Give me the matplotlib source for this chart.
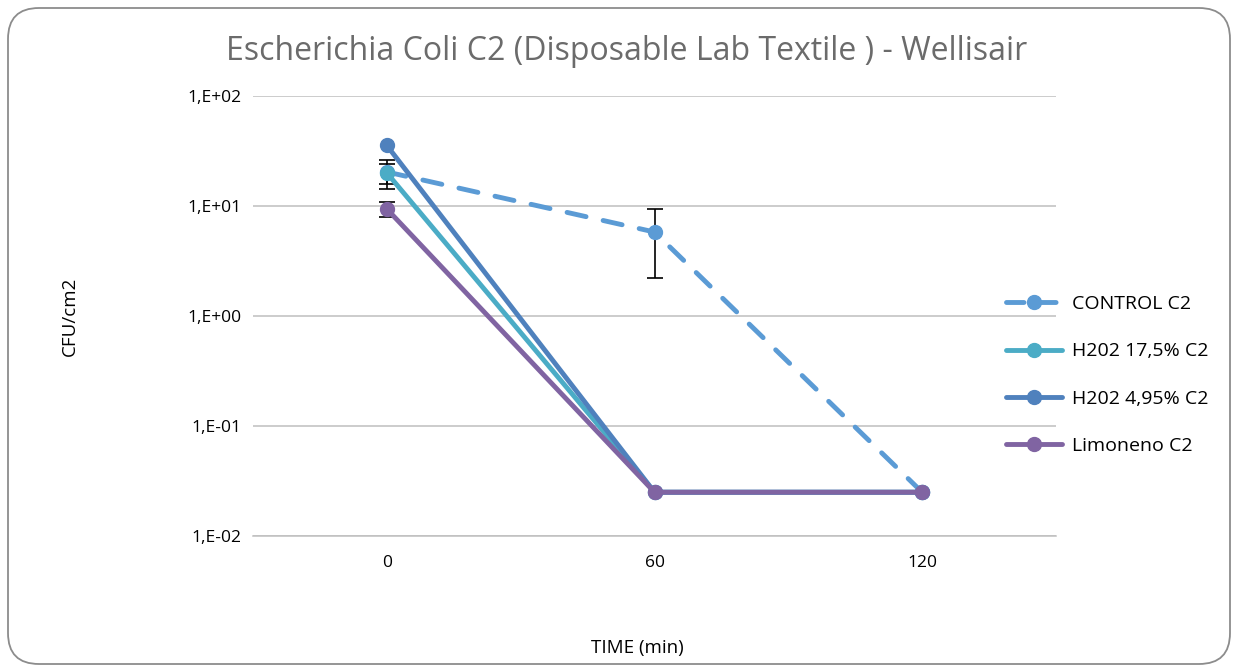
import numpy as np
import matplotlib; matplotlib.use("Agg")
import matplotlib.pyplot as plt
from matplotlib.patches import FancyBboxPatch
from matplotlib.ticker import FixedLocator, NullLocator

plt.rcParams['font.family'] = ['Open Sans', 'DejaVu Sans']

times = ["0", "60", "120"]
control = [20.4, 5.8, 0.025]
control_err = [6.0, 3.6, 0.0]
h2o2_175 = [20.0, 0.025, 0.025]
h2o2_175_err = [4.0, 0.0, 0.0]
h2o2_495 = [35.5, 0.025, 0.025]
limoneno = [9.4, 0.025, 0.025]
limoneno_err = [1.5, 0.0, 0.0]
yticks = [1e-2, 1e-1, 1e0, 1e1, 1e2]
ytick_labels = ["1,E-02", "1,E-01", "1,E+00", "1,E+01", "1,E+02"]

fig = plt.figure(figsize=(12.39, 6.72), dpi=100)
fig.patches.append(FancyBboxPatch((8/1239, 8/672), 1222/1239, 656/672, boxstyle="round,pad=0,rounding_size=0.025",
                                  transform=fig.transFigure, fc="none", ec="#8c8c8c", lw=1.3,
                                  mutation_aspect=1239/672, zorder=-1))
ax = fig.add_axes([253/1239, 1-536/672, 803/1239, 440/672])
ax.set_facecolor("none")
x = np.arange(len(times))

kw = dict(lw=3.5, marker='o', ms=10, solid_capstyle='round')
ax.plot(x, control, color="#5B9BD5", ls=(0, (4, 3.6)), dash_capstyle='round', label="CONTROL C2", zorder=3, **kw)
ax.plot(x, h2o2_175, color="#4BACC6", label="H202 17,5% C2", zorder=4, **kw)
ax.plot(x, h2o2_495, color="#4F81BD", label="H202 4,95% C2", zorder=5, **kw)
ax.plot(x, limoneno, color="#8064A2", label="Limoneno C2", zorder=6, **kw)
for vals, err in [(control, control_err), (h2o2_175, h2o2_175_err), (limoneno, limoneno_err)]:
    v = np.array(vals); e = np.array(err); m = e > 0
    ax.errorbar(x[m], v[m], yerr=e[m], fmt='none', ecolor="black", elinewidth=1.2, capsize=6, capthick=1.2, zorder=2.5)

ax.set_yscale('log')
ax.set_ylim(1e-2, 1e2)
ax.yaxis.set_major_locator(FixedLocator(yticks))
ax.yaxis.set_minor_locator(NullLocator())
ax.set_yticklabels(ytick_labels, fontsize=12.5)
ax.set_xlim(-0.5, 2.5)
ax.set_xticks(x)
ax.set_xticklabels(times, fontsize=12.5)
ax.tick_params(length=0, pad=14)
ax.tick_params(axis='y', pad=8)
ax.grid(axis='y', color="#BFBFBF", lw=1.1)
for s in ["top", "right", "left"]:
    ax.spines[s].set_visible(False)
ax.spines["bottom"].set_color("#BFBFBF")
ax.spines["bottom"].set_linewidth(1.1)

fig.text(627/1239, 1-52/672, "Escherichia Coli C2 (Disposable Lab Textile ) - Wellisair", ha="center", va="center",
         fontsize=23, color="#6b6b6b")
fig.text(70/1239, 1-316/672, "CFU/cm2", rotation=90, ha="center", va="center", fontsize=13.5)
fig.text(637/1239, 1-648/672, "TIME (min)", ha="center", va="center", fontsize=13.5)
leg = fig.legend(loc="center left", bbox_to_anchor=(988/1239, 1-375/672), frameon=False, fontsize=14,
                 handlelength=2.9, labelspacing=1.5, handletextpad=0.5)
leg.get_lines()[0].set_linestyle((0, (3.6, 3.0)))

fig.savefig("out.png", dpi=100)
